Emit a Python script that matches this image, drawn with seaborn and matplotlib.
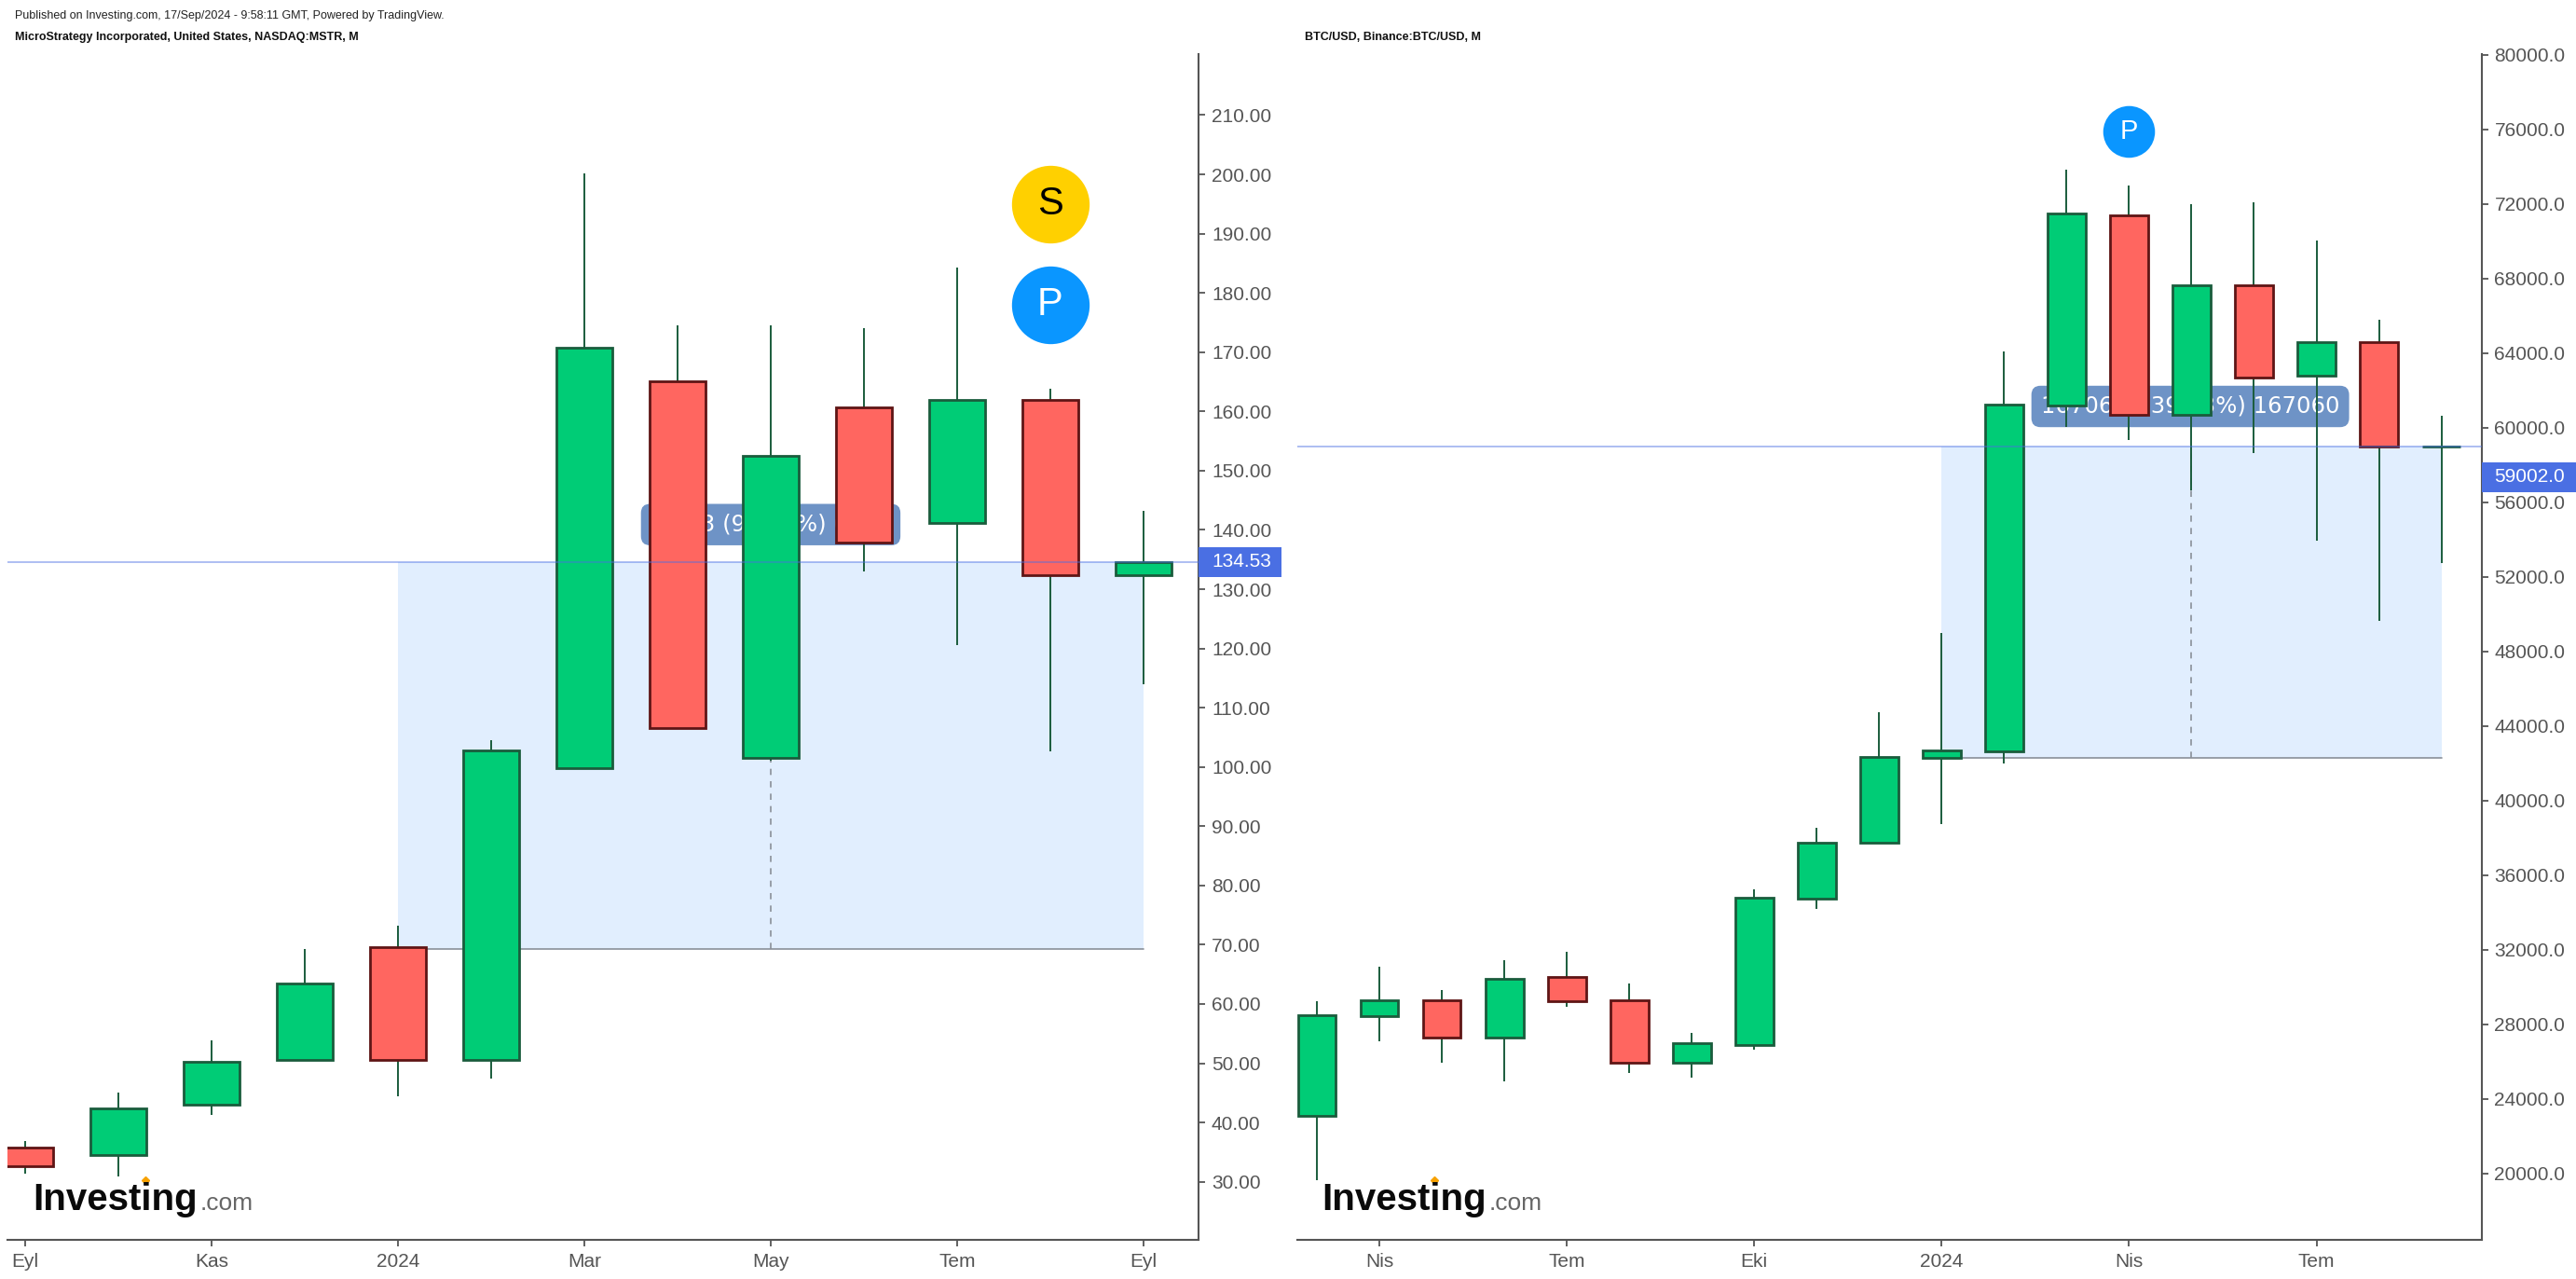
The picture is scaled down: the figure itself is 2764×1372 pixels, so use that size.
import matplotlib
matplotlib.use("Agg")
import matplotlib.pyplot as plt
import seaborn as sns
from matplotlib.lines import Line2D
from matplotlib.patches import Rectangle

# --- values ---
mstr_open = [35.7, 34.5, 43.0, 50.5, 69.6, 50.5, 99.8, 165.1, 101.6, 160.7, 141.2, 162.0, 132.4]
mstr_close = [32.6, 42.4, 50.2, 63.5, 50.5, 102.8, 170.7, 106.6, 152.5, 137.8, 162.0, 132.4, 134.6]
mstr_high = [36.8, 45.0, 53.8, 69.3, 73.2, 104.5, 200.2, 174.6, 174.6, 174.0, 184.3, 163.8, 143.2]
mstr_low = [31.3, 30.9, 41.3, 50.5, 44.4, 47.4, 99.8, 106.6, 101.0, 133.0, 120.6, 102.7, 114.0]
mstr_ticks = [0, 2, 4, 6, 8, 10, 12]
mstr_tick_labels = ["Eyl", "Kas", "2024", "Mar", "May", "Tem", "Eyl"]

btc_open = [23100, 28430, 29320, 27280, 30560, 29320, 25950, 26920, 34730, 37750, 42280, 42630, 61200,
            71390, 60700, 67660, 62815, 64600, 59000]
btc_close = [28520, 29320, 27280, 30470, 29230, 25950, 27010, 34820, 37750, 42370, 42720, 61270, 71480,
             60700, 67660, 62700, 64615, 59015, 59002]
btc_high = [29230, 31090, 29850, 31450, 31890, 30200, 27540, 35270, 38550, 44760, 49020, 64110, 73870,
            72990, 72010, 72100, 70060, 65800, 60650]
btc_low = [19650, 27100, 25950, 24970, 28960, 25410, 25150, 26660, 34200, 37750, 38730, 42010, 60065,
           59365, 56665, 58665, 53965, 49665, 52750]
btc_ticks = [1, 4, 7, 10, 13, 16]
btc_tick_labels = ["Nis", "Tem", "Eki", "2024", "Nis", "Tem"]

GREEN = "#00CC76"
GREEN_EDGE = "#1A5C3C"
RED = "#FF6660"
RED_EDGE = "#5E1515"
AXIS = "#555555"
W, H = 2764, 1372

sns.set_theme(style="white")
plt.rcParams["font.family"] = ["Liberation Sans", "DejaVu Sans"]
fig = plt.figure(figsize=(W / 100, H / 100), dpi=100, facecolor="white")


def draw_candles(ax, opens, closes, highs, lows, width):
    xs = list(range(len(opens)))
    ax.vlines(xs, lows, highs, color=GREEN_EDGE, lw=1.4, zorder=4)
    for i in xs:
        up = closes[i] >= opens[i]
        sns.barplot(x=[i], y=[abs(closes[i] - opens[i])], bottom=min(opens[i], closes[i]), native_scale=True,
                    width=width, color=GREEN if up else RED, saturation=1, errorbar=None,
                    edgecolor=GREEN_EDGE if up else RED_EDGE, linewidth=2.0, zorder=5, ax=ax)


def style_axes(ax, xlim, ylim, yticks, yfmt, xticks, xlabels):
    ax.set_xlim(*xlim)
    ax.set_ylim(*ylim)
    sns.despine(ax=ax, left=True, right=False, top=True)
    ax.spines["right"].set_color(AXIS)
    ax.spines["bottom"].set_color(AXIS)
    ax.spines["right"].set_linewidth(1.5)
    ax.spines["bottom"].set_linewidth(1.5)
    ax.yaxis.tick_right()
    ax.set_yticks(yticks)
    ax.set_yticklabels([yfmt % v for v in yticks])
    ax.set_xticks(xticks)
    ax.set_xticklabels(xlabels)
    ax.tick_params(axis="both", colors=AXIS, labelsize=15, length=5, width=1.3, pad=5,
                   bottom=True, right=True, left=False)
    ax.set_xlabel("")
    ax.set_ylabel("")


def measure(ax, x0, x1, top, bottom, dash_x, text, label_x, label_y):
    ax.fill_between([x0, x1], bottom, top, color="#E1EEFE", lw=0, zorder=1)
    ax.plot([x0, x1], [bottom, bottom], color="#8A9099", lw=1.2, zorder=2)
    ax.plot([dash_x, dash_x], [bottom, top], color="#8A9099", lw=1.2, ls=(0, (4, 4)), zorder=2)
    ax.text(label_x, label_y, text, color="white", fontsize=17.5, family="DejaVu Sans", ha="center", va="center",
            zorder=3, bbox=dict(boxstyle="round,pad=0.42,rounding_size=0.4", fc="#6E93C6", ec="none"))


def price_tag(ax, y_center, height, width, text):
    tr = ax.get_yaxis_transform()
    ax.add_patch(Rectangle((1, y_center - height / 2), width, height, transform=tr, fc="#4A6FE3", ec="none",
                           clip_on=False, zorder=8))
    ax.text(1.011, y_center, text, transform=tr, color="white", fontsize=15, va="center", ha="left",
            clip_on=False, zorder=9)


def badge(ax, x, y, size, color, letter, letter_color, fontsize):
    ax.scatter([x], [y], s=size, color=color, lw=0, zorder=7)
    ax.text(x, y, letter, color=letter_color, fontsize=fontsize, ha="center", va="center", zorder=8)


def logo(x):
    fig.text(x / W, 1 - 1298 / H, "Investing", fontsize=29, fontweight="bold", color="#0A0A0A", ha="left", va="baseline")
    fig.text((x + 180) / W, 1 - 1298 / H, ".com", fontsize=19, color="#666666", ha="left", va="baseline")
    fig.add_artist(Line2D([(x + 121) / W], [1 - 1266 / H], marker="D", ms=4.5, color="#F7A100", lw=0,
                          transform=fig.transFigure))


# --- MSTR ---
ax1 = fig.add_axes([8 / W, 1 - 1330 / H, 1278 / W, 1272 / H])
draw_candles(ax1, mstr_open, mstr_close, mstr_high, mstr_low, 0.6)
style_axes(ax1, (-0.188, 12.59), (20.2, 220.3), list(range(30, 211, 10)), "%.2f", mstr_ticks, mstr_tick_labels)
measure(ax1, 4, 12, 134.53, 69.3, 8, "65.23 (94.13%) 6523", 8.0, 140.9)
ax1.axhline(134.53, color="#4A6FE3", alpha=0.45, lw=1.4, zorder=6)
price_tag(ax1, 134.6, 5.0, 0.0696, "134.53")
badge(ax1, 11, 195, 3600, "#FFD000", "S", "black", 30)
badge(ax1, 11, 178, 3600, "#0A96FF", "P", "white", 30)

# --- BTC ---
ax2 = fig.add_axes([1392 / W, 1 - 1330 / H, 1270.5 / W, 1272 / H])
draw_candles(ax2, btc_open, btc_close, btc_high, btc_low, 0.61)
style_axes(ax2, (-0.313, 18.64), (16450, 80050), list(range(20000, 80001, 4000)), "%.1f", btc_ticks, btc_tick_labels)
measure(ax2, 10, 18, 59002, 42296, 14, "16706.0 (39.53%) 167060", 13.98, 61150)
ax2.axhline(59002, color="#4A6FE3", alpha=0.45, lw=1.4, zorder=6)
price_tag(ax2, 57350, 1580, 0.08, "59002.0")
badge(ax2, 13, 75900, 1600, "#0A96FF", "P", "white", 21)

fig.text(16 / W, 1 - 17 / H, "Published on Investing.com, 17/Sep/2024 - 9:58:11 GMT, Powered by TradingView.",
         fontsize=9, color="#222222", ha="left", va="center")
fig.text(16 / W, 1 - 40 / H, "MicroStrategy Incorporated, United States, NASDAQ:MSTR, M", fontsize=9,
         fontweight="bold", color="#111111", ha="left", va="center")
fig.text(1400 / W, 1 - 40 / H, "BTC/USD, Binance:BTC/USD, M", fontsize=9, fontweight="bold", color="#111111",
         ha="left", va="center")
logo(35)
logo(1418)

fig.savefig("out.png", dpi=100)
